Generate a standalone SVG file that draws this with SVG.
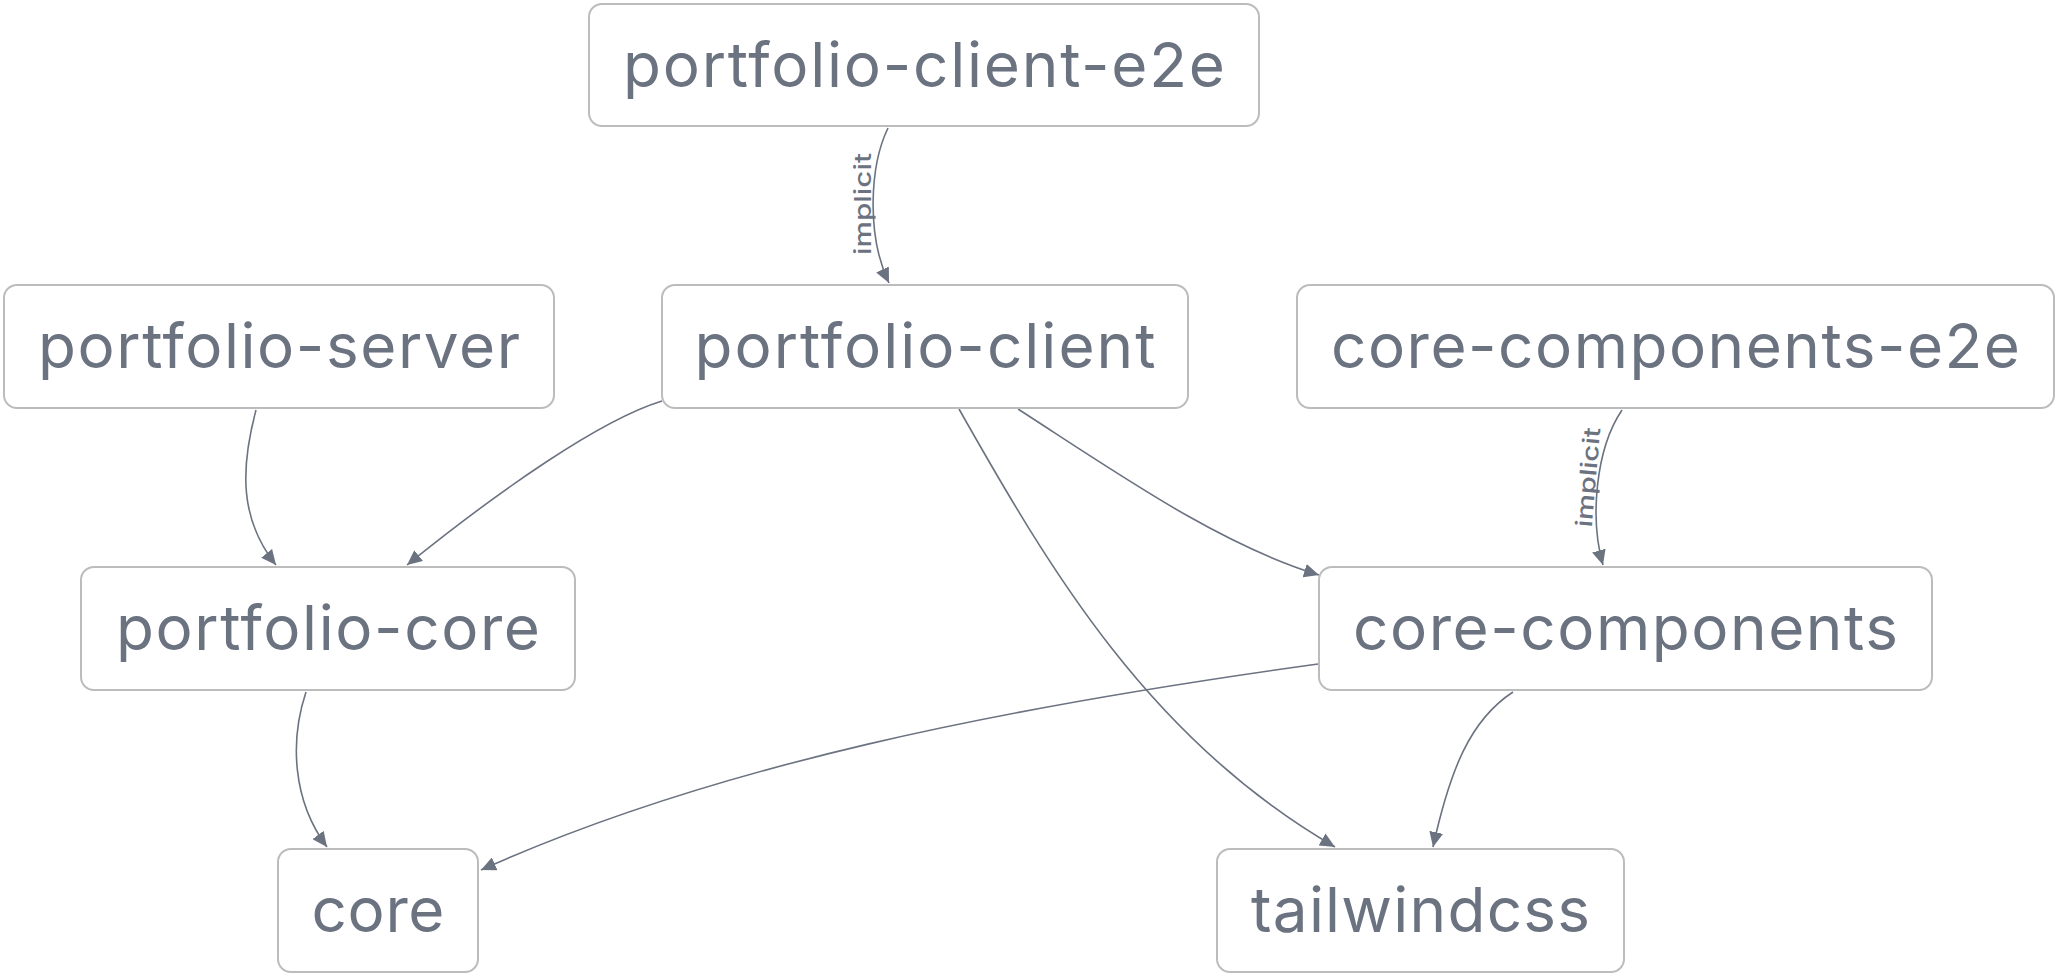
<svg xmlns="http://www.w3.org/2000/svg" width="2058" height="976" viewBox="0 0 2058 976">
  <style>
    .node rect { fill: #ffffff; stroke: #bcbcbc; stroke-width: 2; }
    .node text { font-family: Inter, "Liberation Sans", sans-serif; font-size: 62px; fill: #6b7280; text-anchor: middle; }
    .edge { fill: none; stroke: #6b7280; stroke-width: 1.6; marker-end: url(#arrow); }
    .elabel { font-family: Inter, "Liberation Sans", sans-serif; font-size: 23px; font-weight: 500; fill: #6b7280; text-anchor: middle; }
  </style>
  <defs>
    <marker id="arrow" markerUnits="userSpaceOnUse" markerWidth="16" markerHeight="14" refX="15" refY="7" orient="auto">
      <path d="M0,0 L15,7 L0,14 z" fill="#6b7280"/>
    </marker>
  </defs>
  <rect width="2058" height="976" fill="#ffffff"/>

  <g id="connectors">
    <path class="edge" d="M888,128 C870,165 866,235 889,283"/>
    <path class="edge" d="M256,410 C240,470 240,520 276,565"/>
    <path class="edge" d="M662,401 C600,420 500,490 407,565"/>
    <path class="edge" d="M1018,409 C1120,475 1220,545 1319,575"/>
    <path class="edge" d="M959,409 C1050,570 1150,740 1335,847"/>
    <path class="edge" d="M1622,410 C1595,450 1590,520 1603,565"/>
    <path class="edge" d="M1318,664 C1000,708 715,765 481,870"/>
    <path class="edge" d="M1513,692 C1470,720 1450,770 1433,847"/>
    <path class="edge" d="M306,692 C290,740 292,800 327,847"/>
    <text class="elabel" transform="translate(871,204) rotate(-90)" textLength="102" lengthAdjust="spacingAndGlyphs">implicit</text>
    <text class="elabel" transform="translate(1596,478) rotate(-85)" textLength="100" lengthAdjust="spacingAndGlyphs">implicit</text>
  </g>

  <g id="node-portfolio-client-e2e" class="node">
    <rect x="589" y="4" width="670" height="122" rx="13"/>
    <text x="924" y="87" textLength="602">portfolio-client-e2e</text>
  </g>
  <g id="node-portfolio-server" class="node">
    <rect x="4" y="285" width="550" height="123" rx="13"/>
    <text x="279" y="368" textLength="482">portfolio-server</text>
  </g>
  <g id="node-portfolio-client" class="node">
    <rect x="662" y="285" width="526" height="123" rx="13"/>
    <text x="925" y="368" textLength="461">portfolio-client</text>
  </g>
  <g id="node-core-components-e2e" class="node">
    <rect x="1297" y="285" width="757" height="123" rx="13"/>
    <text x="1675.5" y="368" textLength="689">core-components-e2e</text>
  </g>
  <g id="node-portfolio-core" class="node">
    <rect x="81" y="567" width="494" height="123" rx="13"/>
    <text x="328" y="650" textLength="424">portfolio-core</text>
  </g>
  <g id="node-core-components" class="node">
    <rect x="1319" y="567" width="613" height="123" rx="13"/>
    <text x="1625.5" y="650" textLength="545">core-components</text>
  </g>
  <g id="node-core" class="node">
    <rect x="278" y="849" width="200" height="123" rx="13"/>
    <text x="378" y="932" textLength="133">core</text>
  </g>
  <g id="node-tailwindcss" class="node">
    <rect x="1217" y="849" width="407" height="123" rx="13"/>
    <text x="1420.5" y="932" textLength="339">tailwindcss</text>
  </g>
</svg>
